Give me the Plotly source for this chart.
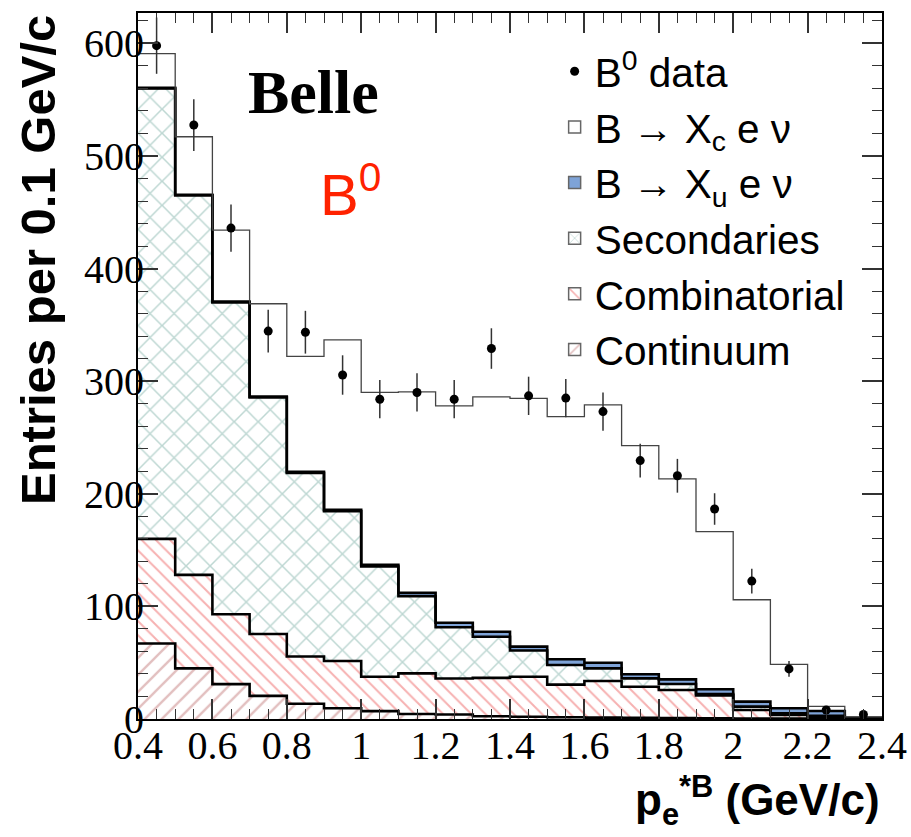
import numpy as np
import plotly.graph_objects as go

# ---- data ----
bin_edges = [0.4, 0.5, 0.6, 0.7, 0.8, 0.9, 1.0, 1.1, 1.2, 1.3, 1.4,
             1.5, 1.6, 1.7, 1.8, 1.9, 2.0, 2.1, 2.2, 2.3, 2.4]
data_counts = [598, 527.5, 436, 344.5, 343.5, 305.5, 284, 290, 284, 329,
               287, 285, 273, 229.5, 216, 186.5, 122.5, 44.5, 8, 4]
data_err = [25, 23, 21, 19, 19, 17.5, 17, 17, 17, 18,
            17, 17, 17, 15, 15, 14, 11, 7, 3, 2]
continuum = [67, 45, 31, 20.5, 13.5, 9.5, 7, 4.5, 4, 2.5,
             2, 1.5, 1.2, 1, 0.8, 0.6, 0.4, 0.3, 0.2, 0.1]
combinatorial = [93, 83, 62, 55, 42, 42, 30.5, 36, 32, 34,
                 35.5, 29, 32.5, 27.7, 25, 20.4, 7.6, 3.3, 1.3, 0.2]
secondaries = [400, 337, 277, 210, 163, 133, 98, 68.5, 45.5, 36.5,
               23.3, 17.5, 11.3, 7.4, 5.3, 1.2, 3, 1.4, 1.4, 0]
xu_enu = [0.5, 0.6, 0.7, 0.8, 1.0, 1.2, 1.5, 3.0, 4.0, 4.5,
          3.5, 5.0, 5.0, 3.6, 4.1, 4.2, 4.4, 4.5, 4.2, 0.7]
xc_enu = [30.5, 51.5, 63.5, 82.5, 102.5, 151, 153, 178.5, 192.5, 208.5,
          220.5, 215.5, 229, 203, 178, 140, 90.5, 39, 4.2, 0.8]

edges = np.array(bin_edges)
centers = (edges[:-1] + edges[1:]) / 2
widths = np.diff(edges)

XU = "B \u2192 X<sub>u</sub> e \u03bd"
XC = "B \u2192 X<sub>c</sub> e \u03bd"
components = [
    ("Continuum", continuum, dict(color="white", pattern=dict(shape="/", fgcolor="#c58080", bgcolor="white", size=12, solidity=0.2))),
    ("Combinatorial", combinatorial, dict(color="white", pattern=dict(shape="\\", fgcolor="#ee6464", bgcolor="white", size=10, solidity=0.2))),
    ("Secondaries", secondaries, dict(color="white", pattern=dict(shape="x", fgcolor="#7cafa6", bgcolor="white", size=17, solidity=0.17))),
    (XU, xu_enu, dict(color="#7ea3d7")),
    (XC, xc_enu, dict(color="white")),
]
legend_rank = {"Continuum": 6, "Combinatorial": 5, "Secondaries": 4, XU: 3, XC: 2}

fig = go.Figure()

# stacked fills
for name, vals, mk in components:
    fig.add_trace(go.Bar(x=centers, y=vals, width=widths, marker=dict(line=dict(width=0), **mk),
                         showlegend=False, hoverinfo="skip"))

# step outlines of cumulative tops
cum = np.zeros(len(centers))
for i, (name, vals, mk) in enumerate(components):
    cum = cum + np.array(vals)
    last = (i == len(components) - 1)
    ys = np.append(cum, cum[-1])
    fig.add_trace(go.Scatter(x=edges, y=ys, mode="lines", line_shape="hv",
                             line=dict(color="#444" if last else "black", width=1.3 if last else 2.6),
                             showlegend=False, hoverinfo="skip"))

# data points
fig.add_trace(go.Scatter(x=centers, y=data_counts, mode="markers", name="B<sup>0</sup> data",
                         marker=dict(color="black", size=9),
                         error_y=dict(type="data", array=data_err, color="#333", thickness=1.5, width=0),
                         legendrank=1, legendgroup="g1"))

# legend entries
for name, vals, mk in components:
    fig.add_trace(go.Bar(x=[None], y=[None], name=name,
                         marker=dict(line=dict(width=1.5, color="#666"), **mk),
                         legendrank=legend_rank[name], legendgroup=name))

fig.update_layout(
    width=911, height=837,
    margin=dict(l=138, r=29, t=13, b=118, autoexpand=False),
    paper_bgcolor="white", plot_bgcolor="white",
    barmode="stack", bargap=0,
    showlegend=True,
    legend=dict(x=0.56, y=0.964, xanchor="left", yanchor="top",
                font=dict(family="Liberation Sans, Arial", size=40.5, color="black"),
                bgcolor="rgba(0,0,0,0)", tracegroupgap=0, traceorder="normal"),
    font=dict(family="Liberation Serif, Times New Roman", color="black"),
)

fig.update_xaxes(range=[0.4, 2.4], tick0=0.4, dtick=0.2, showgrid=False, zeroline=False,
                 automargin=False,
                 showline=True, linecolor="black", linewidth=2, mirror="ticks",
                 ticks="inside", ticklen=20, tickwidth=1.5, tickcolor="#333",
                 ticklabelstandoff=-10,
                 minor=dict(dtick=0.05, ticks="inside", ticklen=10, tickwidth=1.2, tickcolor="#333"),
                 tickfont=dict(family="Liberation Serif", size=40, color="black"))
fig.update_yaxes(range=[0, 627], tick0=0, dtick=100, showgrid=False, zeroline=False,
                 automargin=False,
                 showline=True, linecolor="black", linewidth=2, mirror="ticks",
                 ticks="inside", ticklen=20, tickwidth=1.5, tickcolor="#333",
                 ticklabelstandoff=-16,
                 minor=dict(dtick=20, ticks="inside", ticklen=10, tickwidth=1.2, tickcolor="#333"),
                 tickfont=dict(family="Liberation Serif", size=40, color="black"))

fig.add_annotation(text="<b>Entries per 0.1 GeV/c</b>", textangle=-90, xref="paper", yref="paper",
                   x=0, y=1, xanchor="center", yanchor="top", xshift=-100, showarrow=False,
                   font=dict(family="Liberation Sans, Arial", size=49, color="black"))
fig.add_annotation(text="<b>p<sub>e</sub><sup>*B</sup> (GeV/c)</b>", xref="paper", yref="paper",
                   x=1, y=0, xanchor="right", yanchor="top", yshift=-48, showarrow=False,
                   font=dict(family="Liberation Sans, Arial", size=44, color="black"))
fig.add_annotation(text="<b>Belle</b>", xref="paper", yref="paper", x=0.2356, y=0.888,
                   xanchor="center", yanchor="middle", showarrow=False,
                   font=dict(family="Liberation Serif, Times New Roman", size=62, color="black"))
fig.add_annotation(text="B<sup>0</sup>", xref="paper", yref="paper", x=0.285, y=0.748,
                   xanchor="center", yanchor="middle", showarrow=False,
                   font=dict(family="Liberation Sans, Arial", size=58, color="#ff2200"))

fig.write_html("out.html", config={"displayModeBar": False},
               post_script="document.body.style.margin='0';document.body.style.overflow='hidden';")
